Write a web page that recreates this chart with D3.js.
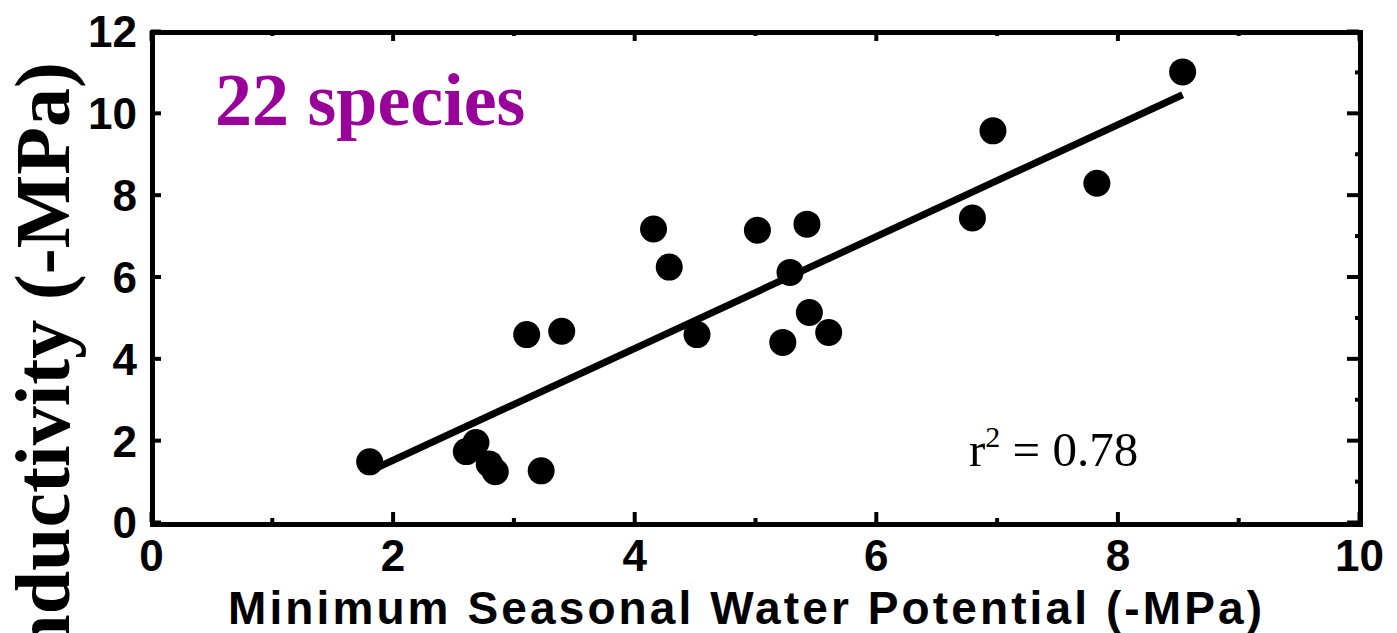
<!DOCTYPE html>
<html>
<head>
<meta charset="utf-8">
<script src="https://cdn.jsdelivr.net/npm/d3@7"></script>
<style>
    body { margin: 0; background: #fff; }
    .tick text { font-family: "Liberation Sans", Arial, sans-serif; font-weight: bold; }
</style>
</head>
<body>
<div id="chart"></div>
<script>
// values, one per species
var waterPotential = [1.81, 2.61, 2.69, 2.80, 2.85, 3.23, 3.11, 3.40, 4.16, 4.29, 4.52,
    5.02, 5.23, 5.29, 5.43, 5.45, 5.61, 6.80, 6.97, 7.83, 8.54];
var conductivityLoss = [1.47, 1.72, 1.94, 1.42, 1.23, 1.25, 4.58, 4.66, 7.16, 6.23, 4.58,
    7.13, 4.39, 6.10, 7.28, 5.12, 4.63, 7.43, 9.56, 8.28, 11.00];

// regression line
var fitRange = [1.83, 8.54];
var fitSlope = 1.367;
var fitIntercept = -1.231;
var rSquared = "0.78";

// tick labels
var xTicks = [0, 2, 4, 6, 8, 10];
var xMinorTicks = [1, 3, 5, 7, 9];
var yTicks = [0, 2, 4, 6, 8, 10, 12];
var yMinorTicks = [1, 3, 5, 7, 9, 11];

var width = 1397,
    height = 633;

var svg = d3.select("#chart")
    .append("svg")
    .attr("width", width)
    .attr("height", height);

var x = d3.scaleLinear()
    .domain([0, 10])
    .range([151, 1359]);

var y = d3.scaleLinear()
    .domain([0, 12])
    .range([522, 31]);

// minor ticks first so the frame sits on top
svg.append("g")
    .attr("transform", "translate(0," + y(0) + ")")
    .call(d3.axisBottom(x).tickValues(xMinorTicks).tickSize(-4).tickSizeOuter(0).tickFormat(""));
svg.append("g")
    .attr("transform", "translate(0," + y(12) + ")")
    .call(d3.axisTop(x).tickValues(xMinorTicks).tickSize(-5).tickSizeOuter(0).tickFormat(""));
svg.append("g")
    .attr("transform", "translate(" + x(0) + ",0)")
    .call(d3.axisLeft(y).tickValues(yMinorTicks).tickSize(-4).tickSizeOuter(0).tickFormat(""));
svg.append("g")
    .attr("transform", "translate(" + x(10) + ",0)")
    .call(d3.axisRight(y).tickValues(yMinorTicks).tickSize(-4).tickSizeOuter(0).tickFormat(""));

// major ticks with labels
var xAxis = svg.append("g")
    .attr("transform", "translate(0," + y(0) + ")")
    .call(d3.axisBottom(x).tickValues(xTicks).tickSize(-10).tickSizeOuter(0).tickPadding(17));
xAxis.selectAll("text").attr("font-size", 44).attr("dy", "0.72em");

var yAxis = svg.append("g")
    .attr("transform", "translate(" + x(0) + ",0)")
    .call(d3.axisLeft(y).tickValues(yTicks).tickSize(-10).tickSizeOuter(0).tickPadding(14));
yAxis.selectAll("text").attr("font-size", 44).attr("dy", "0.36em");

svg.append("g")
    .attr("transform", "translate(0," + y(12) + ")")
    .call(d3.axisTop(x).tickValues(xTicks).tickSize(-10).tickSizeOuter(0).tickFormat(""));
svg.append("g")
    .attr("transform", "translate(" + x(10) + ",0)")
    .call(d3.axisRight(y).tickValues(yTicks).tickSize(-12).tickSizeOuter(0).tickFormat(""));

svg.selectAll(".tick line")
    .attr("stroke", "#000")
    .attr("stroke-width", 4);
svg.selectAll(".domain").remove();

// frame
svg.append("rect")
    .attr("x", x(0) + 1.5)
    .attr("y", y(12) + 1.5)
    .attr("width", x(10) - x(0))
    .attr("height", y(0) - y(12) + 1)
    .attr("fill", "none")
    .attr("stroke", "#000")
    .attr("stroke-width", 5);

// fit line
svg.append("line")
    .attr("x1", x(fitRange[0]))
    .attr("y1", y(fitIntercept + fitSlope * fitRange[0]))
    .attr("x2", x(fitRange[1]))
    .attr("y2", y(fitIntercept + fitSlope * fitRange[1]))
    .attr("stroke", "#000")
    .attr("stroke-width", 7);

// dots
svg.append("g")
    .selectAll("circle")
    .data(waterPotential)
    .enter()
    .append("circle")
    .attr("cx", function (d) { return x(d); })
    .attr("cy", function (d, i) { return y(conductivityLoss[i]); })
    .attr("r", 13.5)
    .style("fill", "#000");

// labels
svg.append("text")
    .attr("x", 215)
    .attr("y", 125)
    .attr("font-family", "'Liberation Serif', 'Times New Roman', serif")
    .attr("font-weight", "bold")
    .attr("font-size", 74)
    .attr("fill", "#990099")
    .text(waterPotential.length + 1 + " species");

var r2 = svg.append("text")
    .attr("x", 969)
    .attr("y", 466)
    .attr("font-family", "'Liberation Serif', 'Times New Roman', serif")
    .attr("font-size", 49)
    .attr("fill", "#000");
r2.append("tspan").text("r");
r2.append("tspan").attr("dy", -19).attr("font-size", 30).text("2");
r2.append("tspan").attr("dy", 19).text(" = " + rSquared);

svg.append("text")
    .attr("x", 228)
    .attr("y", 624)
    .attr("textLength", 1034)
    .attr("lengthAdjust", "spacing")
    .attr("font-family", "'Liberation Sans', Arial, sans-serif")
    .attr("font-weight", "bold")
    .attr("font-size", 46)
    .text("Minimum Seasonal Water Potential (-MPa)");

svg.append("text")
    .attr("transform", "translate(69,62) rotate(-90)")
    .attr("text-anchor", "end")
    .attr("font-family", "'Liberation Serif', 'Times New Roman', serif")
    .attr("font-weight", "bold")
    .attr("font-size", 78)
    .text("Loss of conductivity (-MPa)");
</script>
</body>
</html>
